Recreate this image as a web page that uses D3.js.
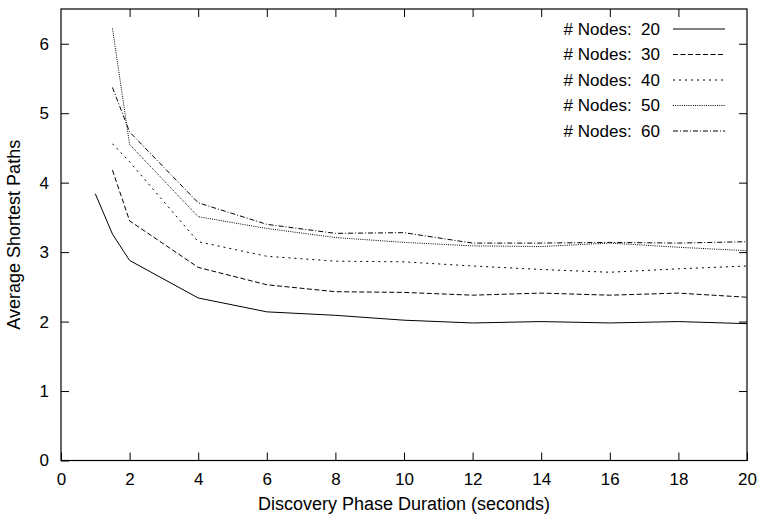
<!DOCTYPE html>
<html lang="en">
<head>
<meta charset="UTF-8">
<script src="https://d3js.org/d3.v7.min.js"></script>
<title>Average Shortest Paths</title>
<style>
  body { margin: 0; background: #fff; }
  text { font-family: "Liberation Sans", Arial, sans-serif; font-size: 17px; fill: #000; }
</style>
</head>
<body>
<div id="chart"></div>
<script>
// data
var xValues = [1, 1.5, 2, 4, 6, 8, 10, 12, 14, 16, 18, 20];
var nodes20 = [3.84, 3.26, 2.88, 2.34, 2.14, 2.09, 2.02, 1.98, 2.00, 1.98, 2.00, 1.97];
var nodes30 = [null, 4.18, 3.45, 2.78, 2.53, 2.43, 2.42, 2.38, 2.41, 2.38, 2.41, 2.35];
var nodes40 = [null, 4.56, 4.30, 3.15, 2.94, 2.87, 2.86, 2.80, 2.75, 2.71, 2.76, 2.80];
var nodes50 = [null, 6.22, 4.55, 3.51, 3.34, 3.21, 3.14, 3.09, 3.08, 3.13, 3.07, 3.02];
var nodes60 = [null, 5.37, 4.73, 3.71, 3.40, 3.27, 3.28, 3.13, 3.13, 3.14, 3.13, 3.15];
var seriesNames = ["# Nodes:  20", "# Nodes:  30", "# Nodes:  40", "# Nodes:  50", "# Nodes:  60"];
var xTicks = [0, 2, 4, 6, 8, 10, 12, 14, 16, 18, 20];
var yTicks = [0, 1, 2, 3, 4, 5, 6];

var allSeries = [nodes20, nodes30, nodes40, nodes50, nodes60];
var dashes = [null, "5,2.5", "2,4", "1,1.2", "5,2,1,2"];

var width = 758, height = 517;
var margin = {top: 9, right: 11, bottom: 56.5, left: 61};

var svg = d3.select("#chart").append("svg")
    .attr("width", width)
    .attr("height", height);

var x = d3.scaleLinear().domain([0, 20]).range([margin.left, width - margin.right]);
var y = d3.scaleLinear().domain([0, 6.5]).range([height - margin.bottom, margin.top]);

// ticks on all four sides, like gnuplot mirror
svg.append("g")
    .attr("transform", "translate(0," + y(0) + ")")
    .call(d3.axisBottom(x).tickValues(xTicks).tickSize(-8).tickPadding(12).tickFormat(d3.format("d")))
    .call(function(g) { g.select(".domain").remove(); });
svg.append("g")
    .attr("transform", "translate(0," + y(6.5) + ")")
    .call(d3.axisTop(x).tickValues(xTicks.slice(1, -1)).tickSize(-8).tickFormat(""))
    .call(function(g) { g.select(".domain").remove(); });
svg.append("g")
    .attr("transform", "translate(" + x(0) + ",0)")
    .call(d3.axisLeft(y).tickValues(yTicks).tickSize(-8).tickPadding(12).tickFormat(d3.format("d")))
    .call(function(g) { g.select(".domain").remove(); });
svg.append("g")
    .attr("transform", "translate(" + x(20) + ",0)")
    .call(d3.axisRight(y).tickValues(yTicks.slice(1)).tickSize(-8).tickFormat(""))
    .call(function(g) { g.select(".domain").remove(); });

svg.selectAll(".tick line").attr("stroke", "#000");
svg.selectAll(".tick text").style("font-size", "17px").attr("font-family", null);

// frame
svg.append("rect")
    .attr("x", x(0)).attr("y", y(6.5))
    .attr("width", x(20) - x(0)).attr("height", y(0) - y(6.5))
    .attr("fill", "none").attr("stroke", "#000").attr("stroke-width", 1.2);

// lines
var line = d3.line()
    .defined(function(d) { return d[1] != null; })
    .x(function(d) { return x(d[0]); })
    .y(function(d) { return y(d[1]); });

allSeries.forEach(function(s, i) {
  svg.append("path")
    .datum(xValues.map(function(v, j) { return [v, s[j]]; }))
    .attr("d", line)
    .attr("fill", "none")
    .attr("stroke", "#000")
    .attr("stroke-width", 1)
    .attr("stroke-dasharray", dashes[i]);
});

// legend
var legend = svg.append("g");
seriesNames.forEach(function(name, i) {
  var ly = 29 + i * 25.5;
  legend.append("text")
    .attr("x", 660).attr("y", ly).attr("dy", "0.35em")
    .attr("text-anchor", "end")
    .style("white-space", "pre")
    .text(name);
  legend.append("line")
    .attr("x1", 673).attr("x2", 725)
    .attr("y1", ly).attr("y2", ly)
    .attr("stroke", "#000").attr("stroke-width", 1)
    .attr("stroke-dasharray", dashes[i]);
});

// axis labels
svg.append("text")
    .attr("x", (x(0) + x(20)) / 2).attr("y", 510)
    .attr("text-anchor", "middle")
    .style("font-size", "18px")
    .text("Discovery Phase Duration (seconds)");
svg.append("text")
    .attr("transform", "translate(20," + (y(0) + y(6.5)) / 2 + ") rotate(-90)")
    .attr("text-anchor", "middle")
    .style("font-size", "18px")
    .text("Average Shortest Paths");
</script>
</body>
</html>
